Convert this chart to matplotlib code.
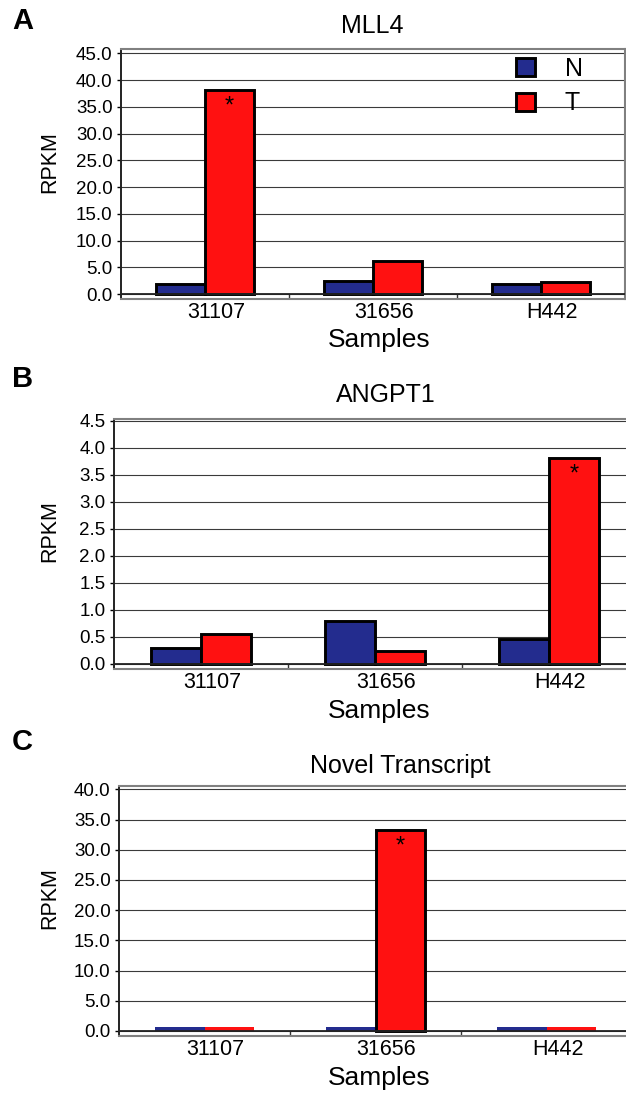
import numpy as np
import matplotlib
matplotlib.use('Agg')
import matplotlib.pyplot as plt
from matplotlib.transforms import ScaledTranslation

plt.rcParams['font.family'] = ['Liberation Sans', 'DejaVu Sans']

samples = ['31107', '31656', 'H442']
series_names = ['N', 'T']

mll4_n = [1.9, 2.5, 1.9]
mll4_t = [38.2, 6.1, 2.3]
angpt1_n = [0.29, 0.80, 0.46]
angpt1_t = [0.56, 0.24, 3.81]
novel_n = [0.6, 0.6, 0.6]
novel_t = [0.6, 33.3, 0.6]

col_n = '#232C8E'
col_t = '#FF1111'

W, H = 626, 1094
fig = plt.figure(figsize=(W / 100, H / 100), dpi=100)


def px_rect(left, top, right, bottom):
    return [left / W, 1 - bottom / H, (right - left) / W, (bottom - top) / H]


def draw_panel(rect, n_vals, t_vals, ymax, step, ylim, star, edges=True):
    ax = fig.add_axes(rect)
    x = np.arange(len(samples))
    w = 0.29
    lw_n = [2.1 if (edges or v > 1) else 0 for v in n_vals]
    lw_t = [2.1 if (edges or v > 1) else 0 for v in t_vals]
    bn = ax.bar(x - w / 2, n_vals, w, color=col_n, edgecolor='black',
                linewidth=lw_n, zorder=3, label=series_names[0])
    bt = ax.bar(x + w / 2, t_vals, w, color=col_t, edgecolor='black',
                linewidth=lw_t, zorder=3, label=series_names[1])
    ax.set_xlim(-0.5, 2.5)
    ax.set_ylim(*ylim)
    ticks = np.arange(0, ymax + step / 2, step)
    ax.set_yticks(ticks)
    ax.set_yticklabels(['%.1f' % v for v in ticks])
    ax.set_axisbelow(True)
    ax.yaxis.grid(True, color='#3a3a3a', linewidth=0.8)
    ax.axhline(0, color='#222222', linewidth=1.3, zorder=4)
    ax.set_xticks(x)
    ax.set_xticklabels(samples)
    ax.set_xticks([0.5, 1.5], minor=True)
    ax.tick_params(axis='x', which='major', length=0, pad=2.5, labelsize=15.5)
    ax.tick_params(axis='x', which='minor', direction='in', length=3.6,
                   width=1, color='#333333')
    ax.tick_params(axis='y', length=2.9, width=1, pad=3.2, labelsize=13.5)
    shift = ScaledTranslation(11 / 100, 0, fig.dpi_scale_trans)
    for lab in ax.get_xticklabels():
        lab.set_transform(lab.get_transform() + shift)
    for s in ['top', 'bottom', 'right']:
        ax.spines[s].set_color('#808080')
        ax.spines[s].set_linewidth(1.5)
    ax.spines['left'].set_color('#222222')
    ax.spines['left'].set_linewidth(1.4)
    ax.annotate('*', (star + w / 2, t_vals[star]), xytext=(0, -4),
                textcoords='offset points', ha='center', va='top',
                fontsize=17, zorder=5)
    return ax, bn, bt


# panel A
axA, bn, bt = draw_panel(px_rect(121, 49, 625, 299), mll4_n, mll4_t,
                         45, 5, (-0.93, 45.8), 0)
axA.legend(handles=[bn, bt], loc='upper left', frameon=False,
           bbox_to_anchor=(516 / W, 1 - 57 / H), bbox_transform=fig.transFigure,
           borderpad=0, borderaxespad=0, fontsize=18, handlelength=0.75,
           handleheight=0.75, handletextpad=1.2, labelspacing=0.42)

# panel B
draw_panel(px_rect(114, 419, 636, 669), angpt1_n, angpt1_t,
           4.5, 0.5, (-0.093, 4.537), 2)

# panel C
draw_panel(px_rect(119, 786, 632, 1036), novel_n, novel_t,
           40, 5, (-0.83, 40.55), 1, edges=False)

# titles, axis labels, panel letters
titles = [('MLL4', 372, 33), ('ANGPT1', 386, 402), ('Novel Transcript', 400, 773)]
for txt, xc, yb in titles:
    fig.text(xc / W, 1 - yb / H, txt, ha='center', va='baseline', fontsize=18)

for yb in [347, 718, 1085]:
    fig.text(379 / W, 1 - yb / H, 'Samples', ha='center', va='baseline', fontsize=19)

for yc in [162, 531, 898]:
    fig.text(50 / W, 1 - yc / H, 'RPKM', ha='center', va='center',
             rotation=90, fontsize=15.5)

for letter, yb in [('A', 29), ('B', 387), ('C', 750)]:
    fig.text(12 / W, 1 - yb / H, letter, ha='left', va='baseline',
             fontsize=21, fontweight='bold')

fig.savefig('out.png', dpi=100)
